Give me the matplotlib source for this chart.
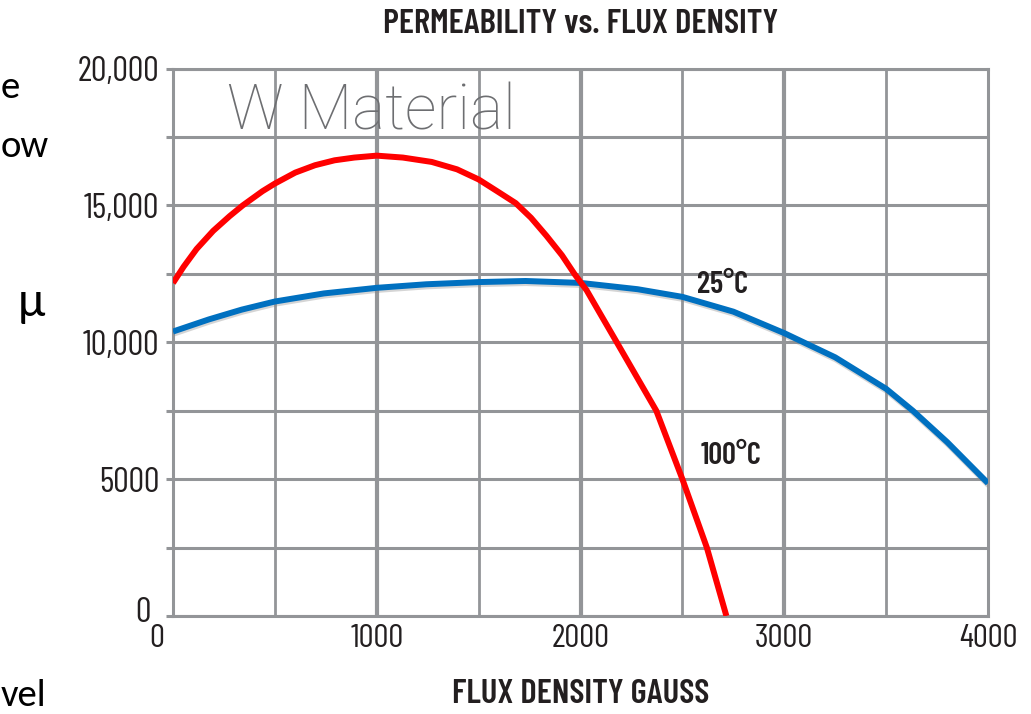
import numpy as np
import matplotlib
matplotlib.use("Agg")
import matplotlib.pyplot as plt
import matplotlib.patheffects as pe
from matplotlib.transforms import ScaledTranslation

# data (flux density in gauss, permeability)
b_25 = [0, 176, 337, 500, 741, 1000, 1243, 1500, 1730, 2000, 2280, 2500,
        2750, 3000, 3250, 3500, 3631, 3800, 4000]
mu_25 = [10393, 10836, 11193, 11490, 11786, 11990, 12120, 12200, 12240,
         12170, 11940, 11660, 11120, 10335, 9450, 8300, 7500, 6350, 4850]

b_100 = [0, 52, 116, 197, 278, 342, 439, 500, 600, 697, 793, 890, 1000,
         1128, 1270, 1394, 1500, 1591, 1682, 1757, 1833, 1909, 1970, 2030,
         2100, 2178, 2372, 2500, 2620, 2716]
mu_100 = [12165, 12760, 13410, 14070, 14610, 15000, 15520, 15800, 16200,
          16470, 16650, 16750, 16820, 16750, 16590, 16320, 15950, 15520,
          15085, 14550, 13890, 13180, 12500, 11900, 11000, 10000, 7500,
          5000, 2500, 0]

xticks = [0, 1000, 2000, 3000, 4000]
yticks = [0, 5000, 10000, 15000, 20000]
ytick_labels = ['0', '5000', '10,000', '15,000', '20,000']

grid_col = '#939598'
text_col = '#231f20'
cond = ['Barlow Condensed', 'DejaVu Sans']

fig = plt.figure(figsize=(10.31, 7.14), dpi=100)
ax = fig.add_axes([0.1678, 0.1373, 0.7905, 0.7666])

# grid, heavier at every 1000 gauss
for x in range(0, 4001, 500):
    lw = 3.0 if x in (1000, 2000, 3000) else 2.0
    ax.axvline(x, color=grid_col, lw=lw, zorder=1)
for y in range(0, 20001, 2500):
    ax.axhline(y, color=grid_col, lw=2.2, zorder=1)

shadow = [pe.SimpleLineShadow(offset=(0.5, -1.5), shadow_color='#888888', alpha=0.35), pe.Normal()]
ax.plot(b_25, mu_25, color='#0070c0', lw=4.3, solid_capstyle='butt', zorder=3, path_effects=shadow)
ax.plot(b_100, mu_100, color='#ff0000', lw=4.3, solid_capstyle='butt', zorder=4)

ax.set_xlim(0, 4000)
ax.set_ylim(0, 20000)
for s in ax.spines.values():
    s.set_color(grid_col)
    s.set_linewidth(2.2)

ax.set_xticks(xticks)
ax.set_yticks(yticks)
ax.set_yticklabels(ytick_labels)
ax.set_yticks(range(0, 20001, 2500), minor=True)
ax.tick_params(axis='y', which='both', length=5, width=2.2, color=grid_col, direction='out', pad=5)
ax.tick_params(axis='x', length=0, pad=6)
ax.tick_params(axis='x', labelsize=24, labelcolor=text_col)
ax.tick_params(axis='y', labelsize=25, labelcolor=text_col)
for lab in ax.get_xticklabels() + ax.get_yticklabels():
    lab.set_family(cond)
    lab.set_fontweight(400)
# the zeros sit off the corner
xl0 = ax.get_xticklabels()[0]
xl0.set_transform(xl0.get_transform() + ScaledTranslation(-0.16, 0, fig.dpi_scale_trans))
yl0 = ax.get_yticklabels()[0]
yl0.set_transform(yl0.get_transform() + ScaledTranslation(-0.08, 0.06, fig.dpi_scale_trans))

ax.set_xlabel('FLUX DENSITY GAUSS', fontsize=25, fontweight=600, family=cond,
              color=text_col, va='center')
ax.xaxis.set_label_coords(0.5, -0.144)
fig.text(0.563, 0.965, 'PERMEABILITY vs. FLUX DENSITY', ha='center', va='center',
         fontsize=25, fontweight=600, family=cond, color=text_col)

ax.text(975, 18420, 'W Material', ha='center', va='center', fontsize=45,
        color='#6d6e71', family='Roboto', fontweight='light', zorder=2)
ax.text(2698, 12100, '25\u00b0C', ha='center', va='center', fontsize=22, fontweight=600,
        color=text_col, family=cond, zorder=5)
ax.text(2737, 5850, '100\u00b0C', ha='center', va='center', fontsize=22, fontweight=600,
        color=text_col, family=cond, zorder=5)

# fragments of the slide text beside the chart
side = ['Carlito', 'DejaVu Sans']
fig.text(0.001, 0.877, 'e', fontsize=28, va='center', ha='left', family=side)
fig.text(0.001, 0.795, 'ow', fontsize=28, va='center', ha='left', family=side)
fig.text(0.017, 0.575, '\u03bc', fontsize=36, va='center', ha='left', family=side)
fig.text(0.001, 0.003, 'vel', fontsize=28, va='bottom', ha='left', family=side)

fig.savefig('out.png', dpi=100)
